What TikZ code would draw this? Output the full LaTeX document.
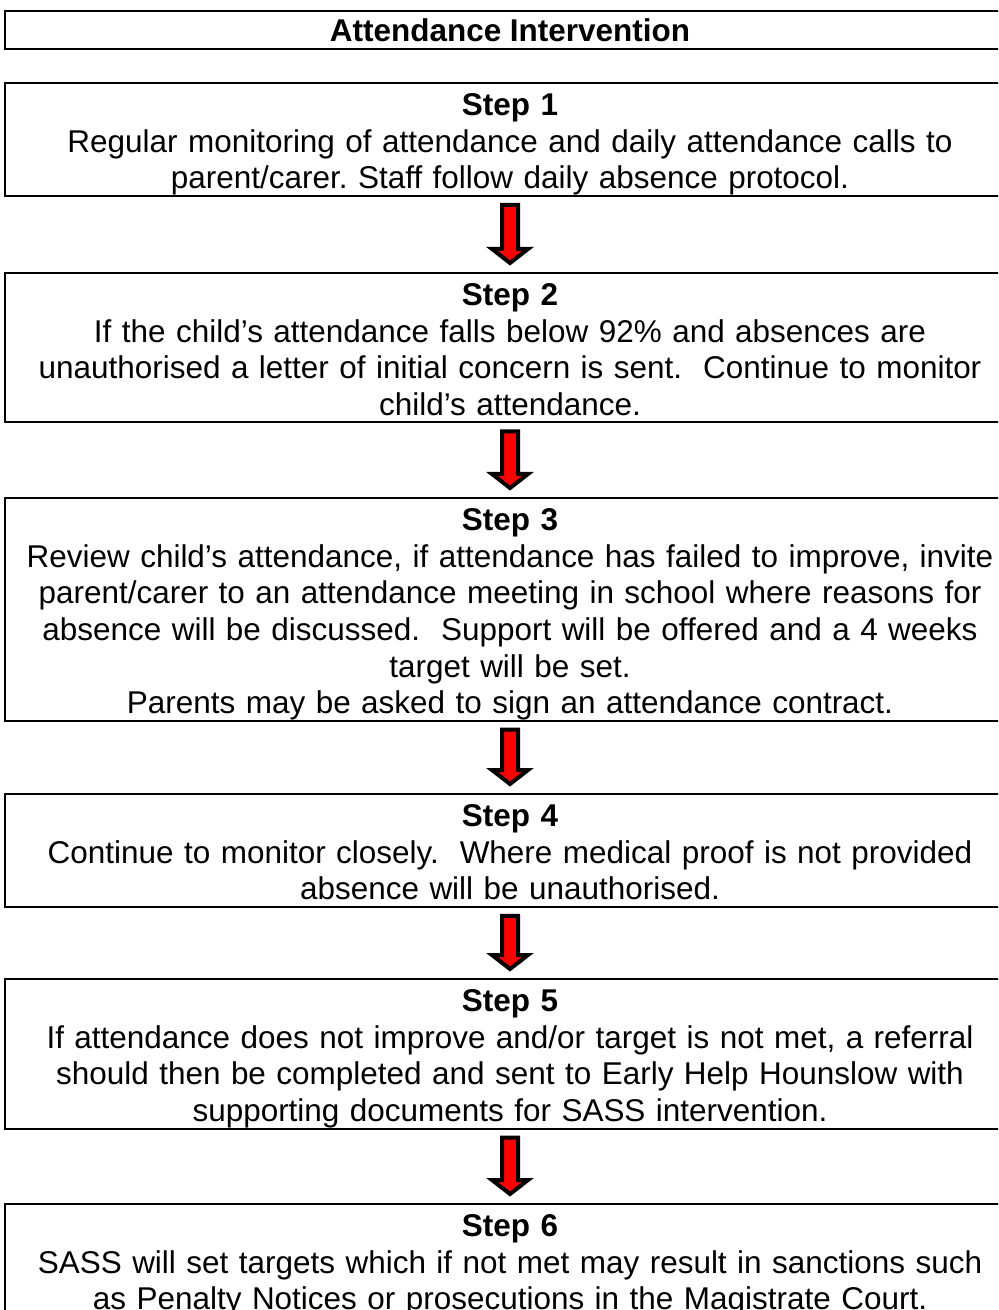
\documentclass[tikz,border=0pt]{standalone}
\usepackage{fontspec}
\setmainfont{Liberation Sans}
\usetikzlibrary{calc}

\newcommand{\pxu}{0.375pt}
\frenchspacing

\tikzset{
  titlebox/.style={draw, line width=2*\pxu, minimum width=1010*\pxu, minimum height=38*\pxu,
    inner sep=0pt, anchor=north, font=\bfseries\fontsize{11.8}{13.72}\selectfont},
  stepbox/.style={draw, line width=2*\pxu, text width=1000*\pxu, inner xsep=5*\pxu,
    inner ysep=0pt, align=center, anchor=north, font=\fontsize{11.8}{13.72}\selectfont,
    execute at begin node={\rule{0pt}{12.3pt}},
    execute at end node={\rule[-2.6pt]{0pt}{0pt}}},
  blockarrow/.style={draw=black, fill=red, line width=4*\pxu, line join=miter,
    to path={($(\tikztostart)+(-8,8)$) -- ($(\tikztotarget)+(-8,-23)$)
      -- ($(\tikztotarget)+(-18,-23)$) -- ($(\tikztotarget)+(0,-9)$)
      -- ($(\tikztotarget)+(18,-23)$) -- ($(\tikztotarget)+(8,-23)$)
      -- ($(\tikztostart)+(8,8)$) -- cycle}}
}

\begin{document}
\begin{tikzpicture}[x=\pxu, y=-\pxu]
	\useasboundingbox (0,0) rectangle (998,1310);
	\clip (0,0) rectangle (998,1310);

	\node[titlebox] (title) at (510,10) {Attendance Intervention};

	\node[stepbox] (s1) at (510,82) {{\bfseries Step 1}\\
		Regular monitoring of attendance and daily attendance calls to\\
		parent/carer. Staff follow daily absence protocol.};

	\node[stepbox] (s2) at (510,272) {{\bfseries Step 2}\\
		If the child’s attendance falls below 92\% and absences are\\
		unauthorised a letter of initial concern is sent.\ \ Continue to monitor\\
		child’s attendance.};

	\node[stepbox] (s3) at (510,497) {{\bfseries Step 3}\\
		Review child’s attendance, if attendance has failed to improve, invite\\
		parent/carer to an attendance meeting in school where reasons for\\
		absence will be discussed.\ \ Support will be offered and a 4 weeks\\
		target will be set.\\
		Parents may be asked to sign an attendance contract.};

	\node[stepbox] (s4) at (510,793) {{\bfseries Step 4}\\
		Continue to monitor closely.\ \ Where medical proof is not provided\\
		absence will be unauthorised.};

	\node[stepbox] (s5) at (510,978) {{\bfseries Step 5}\\
		If attendance does not improve and/or target is not met, a referral\\
		should then be completed and sent to Early Help Hounslow with\\
		supporting documents for SASS intervention.};

	\node[stepbox] (s6) at (510,1203) {{\bfseries Step 6}\\
		SASS will set targets which if not met may result in sanctions such\\
		as Penalty Notices or prosecutions in the Magistrate Court.};

	% arrows between the steps
	\foreach \a/\b in {s1/s2, s2/s3, s3/s4, s4/s5, s5/s6}
	{
		\draw[blockarrow] (\a.south) to (\b.north);
	}
\end{tikzpicture}
\end{document}
